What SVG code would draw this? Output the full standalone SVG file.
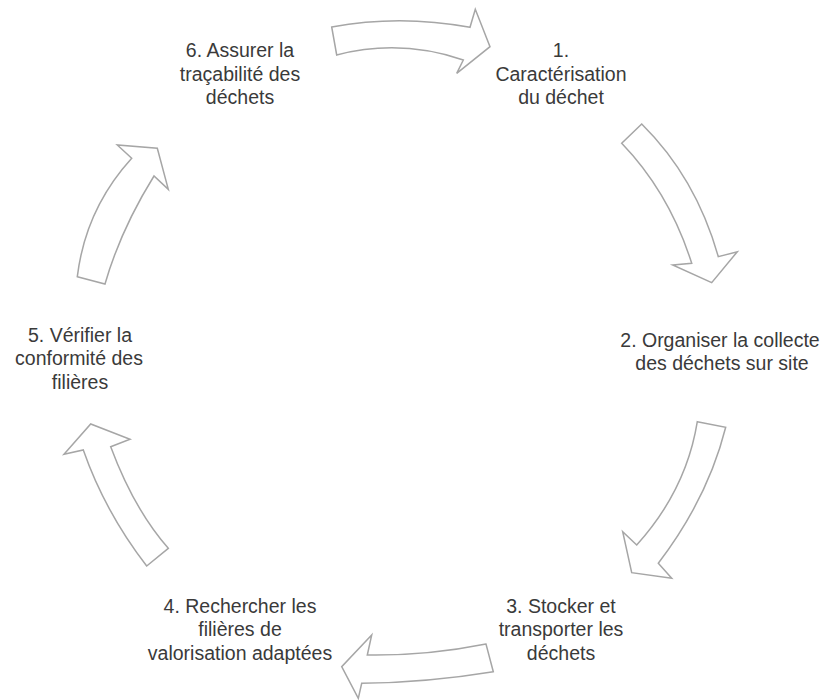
<svg xmlns="http://www.w3.org/2000/svg" width="827" height="700" viewBox="0 0 827 700">
<style>
.arr{fill:#ffffff;stroke:#a6a6a6;stroke-width:1.5;stroke-linejoin:miter}
.t{font-family:"Liberation Sans",Arial,sans-serif;font-size:19.5px;fill:#3a3a3a;text-anchor:middle}
</style>
<rect width="827" height="700" fill="#ffffff"/>
<g id="connectors">
<path id="a1" class="arr" d="M331.7,27 Q400,14.2 470,27.3 L475.3,9.3 L490,46.7 L456.7,73.3 L463.3,60 Q400,38.5 336.7,55 Z"/>
<path id="a2" class="arr" d="M641.7,124 Q696,177.6 718.3,256.7 L737.3,251.7 L711.7,282.7 L672.7,265 L691.7,263.3 Q669.3,192.7 621.7,143.3 Z"/>
<path id="a3" class="arr" d="M697.3,421.7 L725.7,427.3 Q708,498 658.3,563.3 L671.7,578.3 L631.7,572.7 L622.7,531.7 L636.7,545 Q686.4,490 697.3,421.7 Z"/>
<path id="a4" class="arr" d="M486,644 Q426.7,655.9 367.3,655 L371.7,635 L341.7,666.7 L358.3,698.3 L361.7,683.3 Q427.5,682.5 493.3,671.7 Z"/>
<path id="a5" class="arr" d="M146.7,566 L168.3,548.3 Q133.9,509.1 110.7,446.7 L130,439.3 L90.7,424 L64,454.3 L83.3,450 Q105,512 146.7,566 Z"/>
<path id="a6" class="arr" d="M77.3,276.7 L105,284 Q120.5,230 154,176 L168.3,189.3 L157.3,148.3 L117.3,145 L131.7,158.3 Q85.5,209.1 77.3,276.7 Z"/>
</g>
<g id="n1">
<text class="t" x="561" y="57">1.</text>
<text class="t" x="561" y="80.5">Caractérisation</text>
<text class="t" x="561" y="104">du déchet</text>
</g>
<g id="n2">
<text class="t" x="720" y="346.5">2. Organiser la collecte</text>
<text class="t" x="722" y="370">des déchets sur site</text>
</g>
<g id="n3">
<text class="t" x="561" y="612.5">3. Stocker et</text>
<text class="t" x="561" y="636">transporter les</text>
<text class="t" x="561" y="659.5">déchets</text>
</g>
<g id="n4">
<text class="t" x="240" y="612.5">4. Rechercher les</text>
<text class="t" x="240" y="636">filières de</text>
<text class="t" x="240" y="659.5">valorisation adaptées</text>
</g>
<g id="n5">
<text class="t" x="80" y="342">5. Vérifier la</text>
<text class="t" x="79" y="365">conformité des</text>
<text class="t" x="80" y="388.5">filières</text>
</g>
<g id="n6">
<text class="t" x="240" y="57">6. Assurer la</text>
<text class="t" x="240" y="80.5">traçabilité des</text>
<text class="t" x="240" y="104">déchets</text>
</g>
</svg>
